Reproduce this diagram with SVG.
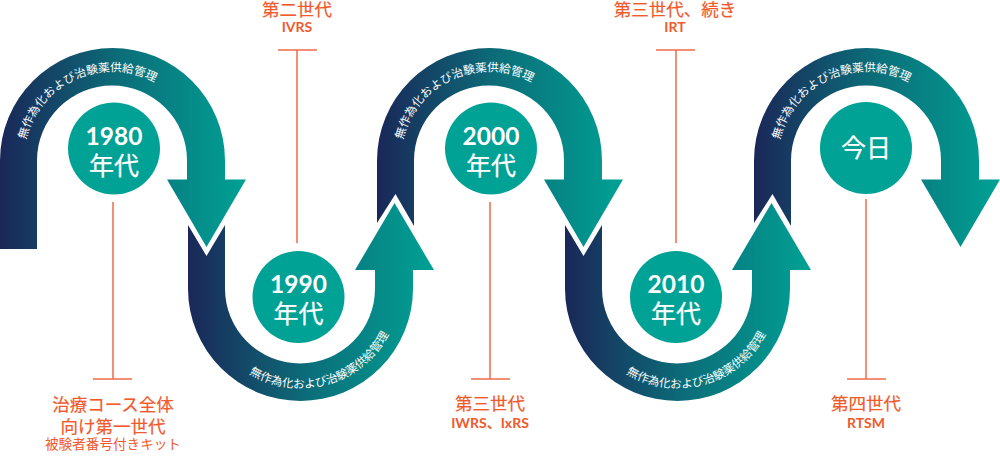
<svg xmlns="http://www.w3.org/2000/svg" width="1000" height="464" viewBox="0 0 1000 464">
<style>
.band{fill:url(#g)}
.c{fill:#00a295}
.y{font:700 24.5px Lato,"Noto Sans CJK JP",sans-serif;fill:#fff;text-anchor:middle}
.d{font:400 25px "Noto Sans CJK JP",sans-serif;fill:#fff;stroke:#fff;stroke-width:.25;text-anchor:middle}
.b{font:400 11.6px "Noto Sans CJK JP",sans-serif;fill:#fff}
.l{font:400 17.5px "Noto Sans CJK JP",sans-serif;fill:#f05a2c;stroke:#f05a2c;stroke-width:.2;text-anchor:middle}
.s{font:700 14px Lato,"Noto Sans CJK JP",sans-serif;fill:#f05a2c;text-anchor:middle}
.k{font:400 13.6px "Noto Sans CJK JP",sans-serif;fill:#f05a2c;text-anchor:middle}
.w{stroke:#ee6b47;stroke-width:1.5;fill:none}
</style>
<defs>
<linearGradient id="g"><stop offset="0" stop-color="#1a2758"/><stop offset=".5" stop-color="#0b6f7a"/><stop offset="1" stop-color="#00a194"/></linearGradient>
<path id="top" d="M23.5,160.5 A89,89 0 0 1 201.5,160.5"/>
<path id="bot" d="M201,288.5 A99.5,99.5 0 0 0 400,288.5"/>
</defs>
<g id="connectors">
<path class="w" d="M113,202V379M93,379H132"/>
<path class="w" d="M297,243V50M278,50H317"/>
<path class="w" d="M490,202V379M471,379H510"/>
<path class="w" d="M676,243V50M656,50H695"/>
<path class="w" d="M866,199V379M847,379H886"/>
</g>
<g id="arrow-1">
<path class="band" d="M0,249V160.5A112.5,112.5 0 0 1 225,160.5V179.5H246L206.5,247L167,179.5H187V160.5A75,75 0 0 0 37,160.5V249Z"/>
<text class="b"><textPath href="#top" startOffset="21">無作為化および治験薬供給管理</textPath></text>
</g>
<g id="arrow-2">
<path class="band" d="M188,225L206.5,256L225,225V288.5A75,75 0 0 0 375,288.5V270H355L394.5,203L434,270H413V288.5A112.5,112.5 0 0 1 188,288.5Z"/>
<text class="b"><textPath href="#bot" startOffset="102">無作為化および治験薬供給管理</textPath></text>
</g>
<g id="arrow-3" transform="translate(377 0)">
<path class="band" d="M0,223L18.5,194L37,226V160.5A75,75 0 0 1 187,160.5V179.5H167L206.5,247L246,179.5H225V160.5A112.5,112.5 0 0 0 0,160.5Z"/>
<text class="b"><textPath href="#top" startOffset="21">無作為化および治験薬供給管理</textPath></text>
</g>
<g id="arrow-4" transform="translate(377 0)">
<path class="band" d="M188,225L206.5,256L225,225V288.5A75,75 0 0 0 375,288.5V270H355L394.5,203L434,270H413V288.5A112.5,112.5 0 0 1 188,288.5Z"/>
<text class="b"><textPath href="#bot" startOffset="102">無作為化および治験薬供給管理</textPath></text>
</g>
<g id="arrow-5" transform="translate(754 0)">
<path class="band" d="M0,223L18.5,194L37,226V160.5A75,75 0 0 1 187,160.5V179.5H167L206.5,247L246,179.5H225V160.5A112.5,112.5 0 0 0 0,160.5Z"/>
<text class="b"><textPath href="#top" startOffset="21">無作為化および治験薬供給管理</textPath></text>
</g>
<g id="node-1980"><circle class="c" cx="114" cy="148.5" r="46"/><text class="y" x="114" y="145">1980</text><text class="d" x="114" y="175">年代</text></g>
<g id="node-1990"><circle class="c" cx="298.5" cy="297" r="46"/><text class="y" x="298.5" y="293">1990</text><text class="d" x="298.5" y="323">年代</text></g>
<g id="node-2000"><circle class="c" cx="491" cy="148.5" r="46"/><text class="y" x="491" y="145">2000</text><text class="d" x="491" y="175">年代</text></g>
<g id="node-2010"><circle class="c" cx="676" cy="297" r="46"/><text class="y" x="676" y="293">2010</text><text class="d" x="676" y="323">年代</text></g>
<g id="node-today"><circle class="c" cx="866" cy="148" r="46"/><text class="d" x="866" y="157">今日</text></g>
<g id="label-1"><text class="l" x="113" y="411">治療コース全体</text><text class="l" x="113" y="433">向け第一世代</text><text class="k" x="113" y="449">被験者番号付きキット</text></g>
<g id="label-2"><text class="l" x="297" y="15.5">第二世代</text><text class="s" x="297" y="32">IVRS</text></g>
<g id="label-3"><text class="l" x="490" y="410">第三世代</text><text class="s" x="490" y="428">IWRS、IxRS</text></g>
<g id="label-4"><text class="l" x="675" y="15.5">第三世代、続き</text><text class="s" x="675" y="32">IRT</text></g>
<g id="label-5"><text class="l" x="866" y="410">第四世代</text><text class="s" x="866" y="428">RTSM</text></g>
</svg>
